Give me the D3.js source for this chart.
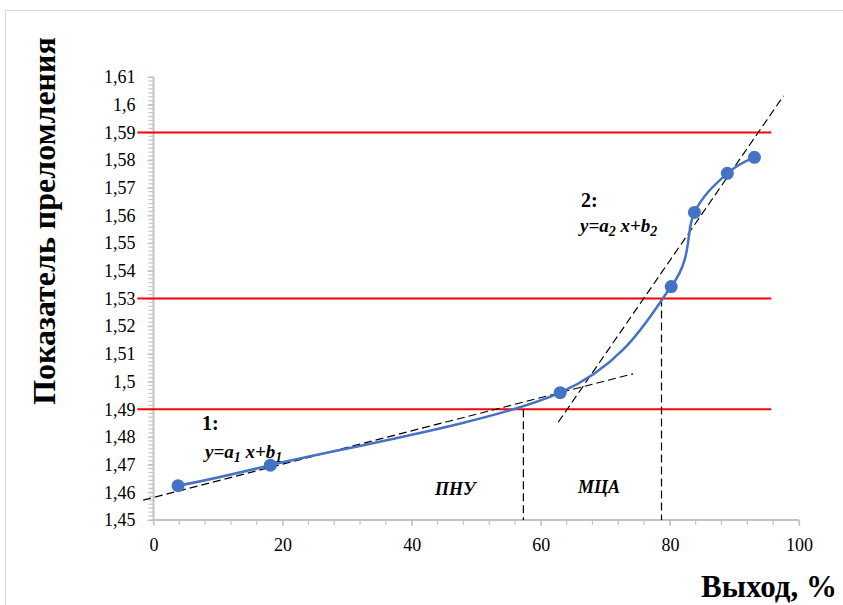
<!DOCTYPE html>
<html lang="ru">
<head>
  <meta charset="utf-8">
  <title>Показатель преломления</title>
  <script src="https://d3js.org/d3.v7.min.js"></script>
  <style>
    html, body { margin: 0; padding: 0; background: #fff; }
    svg { display: block; font-family: "Liberation Serif", "Times New Roman", serif; }
    svg text { font-family: "Liberation Serif", "Times New Roman", serif; }
    .tick-label { font-size: 18px; fill: #000; }
    .axis-title { font-size: 32px; font-weight: bold; fill: #000; }
    .note { font-weight: bold; font-style: italic; font-size: 18px; fill: #000; }
    .num { font-weight: bold; font-size: 20px; fill: #000; }
  </style>
</head>
<body>
<svg id="chart" width="843" height="605"></svg>
<script>
  // measured points (выход, %; показатель преломления)
  const yieldPct = [3.8, 18.1, 63.0, 80.2, 83.8, 88.9, 93.1];
  const refrIndex = [1.4624, 1.4698, 1.496, 1.5343, 1.5611, 1.5752, 1.581];

  // horizontal reference levels
  const redLevels = [1.49, 1.53, 1.59];
  const redSpan = [-2.5, 95.7];

  // tangent lines (two end points each)
  const tangent1 = [[-1.6, 1.4572], [74.3, 1.5028]];
  const tangent2 = [[62.7, 1.4853], [97.6, 1.6032]];

  // vertical cut lines: x position and level they drop from
  const cutX = [57.3, 78.7];
  const cutLevel = [1.49, 1.53];

  const xTicks = [0, 20, 40, 60, 80, 100];
  const yTicks = d3.range(0, 17).map(i => +(1.45 + i * 0.01).toFixed(2));

  const svg = d3.select('#chart');
  const x = d3.scaleLinear().domain([0, 100]).range([153.5, 799]);
  const y = d3.scaleLinear().domain([1.45, 1.61]).range([520, 77]);

  // outer frame
  svg.append('rect')
    .attr('x', 5.5).attr('y', 10.5).attr('width', 860).attr('height', 620)
    .attr('fill', 'none').attr('stroke', '#d9d9d9');

  const axisColor = '#c3c3c3';
  const fmt = v => String(v).replace('.', ',');

  // minor ticks
  const yMinor = d3.range(0, 16 * 7 + 1).map(i => 1.45 + i * 0.01 / 7);
  svg.append('g').selectAll('line').data(yMinor).join('line')
    .attr('x1', x(0) - 5).attr('x2', x(0))
    .attr('y1', d => y(d)).attr('y2', d => y(d))
    .attr('stroke', axisColor).attr('stroke-width', 1.2);
  const xMinor = d3.range(0, 101, 4);
  svg.append('g').selectAll('line').data(xMinor).join('line')
    .attr('x1', d => x(d)).attr('x2', d => x(d))
    .attr('y1', y(1.45)).attr('y2', y(1.45) + 5)
    .attr('stroke', axisColor).attr('stroke-width', 1.2);

  // axes
  const yAxis = svg.append('g')
    .attr('transform', `translate(${x(0)},0)`)
    .call(d3.axisLeft(y).tickValues(yTicks).tickFormat(fmt).tickSize(6).tickPadding(12));
  const xAxis = svg.append('g')
    .attr('transform', `translate(0,${y(1.45)})`)
    .call(d3.axisBottom(x).tickValues(xTicks).tickFormat(d => d).tickSize(6).tickPadding(12));
  [xAxis, yAxis].forEach(g => {
    g.attr('font-family', null).attr('font-size', null);
    g.select('.domain').attr('stroke', axisColor).attr('stroke-width', 2);
    g.selectAll('.tick line').attr('stroke', axisColor).attr('stroke-width', 1.2);
    g.selectAll('.tick text').attr('class', 'tick-label')
      .style('font-family', '"Liberation Serif", "Times New Roman", serif')
      .style('font-size', '18px');
  });
  yAxis.select('.domain').attr('d', `M0,${y(1.61)}V${y(1.45)}`);
  xAxis.select('.domain').attr('d', `M${x(0)},0H${x(100)}`);

  // red levels
  svg.append('g').selectAll('line').data(redLevels).join('line')
    .attr('x1', x(redSpan[0])).attr('x2', x(redSpan[1]))
    .attr('y1', d => y(d)).attr('y2', d => y(d))
    .attr('stroke', '#ff0000').attr('stroke-width', 2);

  // dashed tangents and cuts
  const dash = '8,4';
  [tangent1, tangent2].forEach(t => {
    svg.append('line')
      .attr('x1', x(t[0][0])).attr('y1', y(t[0][1]))
      .attr('x2', x(t[1][0])).attr('y2', y(t[1][1]))
      .attr('stroke', '#000').attr('stroke-width', 1.2).attr('stroke-dasharray', dash);
  });
  cutX.forEach((cx, i) => {
    svg.append('line')
      .attr('x1', x(cx)).attr('x2', x(cx))
      .attr('y1', y(cutLevel[i])).attr('y2', y(1.45))
      .attr('stroke', '#000').attr('stroke-width', 1.2).attr('stroke-dasharray', dash);
  });

  // smoothed series
  const pts = yieldPct.map((v, i) => [v, refrIndex[i]]);
  const line = d3.line().x(d => x(d[0])).y(d => y(d[1])).curve(d3.curveCardinal.tension(0));
  svg.append('path').datum(pts)
    .attr('d', line).attr('fill', 'none')
    .attr('stroke', '#4472c4').attr('stroke-width', 2.5);
  svg.append('g').selectAll('circle').data(pts).join('circle')
    .attr('cx', d => x(d[0])).attr('cy', d => y(d[1])).attr('r', 6.5)
    .attr('fill', '#4472c4');

  // annotations
  function equation(px, py, sub) {
    const t = svg.append('text').attr('class', 'note').attr('x', px).attr('y', py)
      .style('font-size', '19px');
    t.append('tspan').text('y=a');
    t.append('tspan').attr('dy', 4).style('font-size', '14px').text(sub);
    t.append('tspan').attr('dy', -4).text(' x+b');
    t.append('tspan').attr('dy', 4).style('font-size', '14px').text(sub);
  }
  svg.append('text').attr('class', 'num').attr('x', 202).attr('y', 430).text('1:');
  equation(205, 458, '1');
  svg.append('text').attr('class', 'num').attr('x', 581).attr('y', 207).text('2:');
  equation(580, 232, '2');
  svg.append('text').attr('class', 'note').attr('x', 435).attr('y', 495).text('ПНУ');
  svg.append('text').attr('class', 'note').attr('x', 578).attr('y', 493).text('МЦА');

  // axis titles
  svg.append('text').attr('class', 'axis-title')
    .attr('transform', 'translate(55,221) rotate(-90)')
    .attr('text-anchor', 'middle').text('Показатель преломления');
  svg.append('text').attr('class', 'axis-title')
    .attr('x', 837).attr('y', 597).attr('text-anchor', 'end')
    .style('font-size', '31px').text('Выход, %');
</script>
</body>
</html>
